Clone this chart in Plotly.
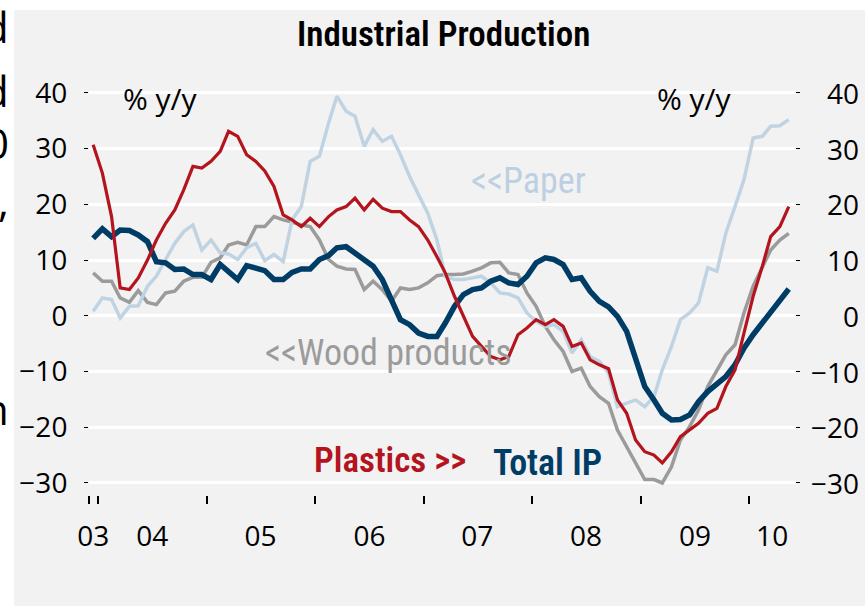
import pandas as pd
import plotly.graph_objects as go

# ---------------- data ----------------
months = pd.date_range("2003-12-01", periods=78, freq="MS") + pd.Timedelta(days=14)

plastics = [30.7, 25.6, 17.8, 5.0, 4.7, 6.8, 10.0, 13.6, 16.6, 19.0,
            22.6, 26.8, 26.5, 27.7, 29.5, 33.1, 32.2, 28.9, 27.7, 26.0,
            23.2, 18.1, 17.2, 16.0, 17.5, 16.0, 17.8, 19.0, 19.6, 21.1,
            19.0, 20.9, 19.3, 18.7, 18.7, 17.2, 16.0, 13.6, 10.6, 7.7,
            3.5, -0.1, -3.7, -5.5, -7.3, -7.9, -7.3, -3.4, -2.2, -0.7,
            -1.6, -0.7, -1.9, -5.5, -4.9, -7.9, -8.8, -9.5, -15.1, -17.5,
            -22.3, -24.4, -25.0, -26.4, -24.4, -21.7, -20.5, -19.3, -17.5, -16.6,
            -12.7, -9.7, -3.1, 3.5, 8.9, 14.2, 16.0, 19.6]

total_ip = [13.9, 15.6, 14.2, 15.4, 15.3, 14.5, 13.3, 9.7, 9.5, 8.3,
            8.4, 7.4, 7.4, 6.5, 9.2, 7.8, 6.5, 9.0, 8.6, 8.1,
            6.5, 6.5, 7.8, 8.4, 8.4, 10.1, 10.8, 12.2, 12.4, 11.3,
            10.1, 8.9, 6.5, 2.6, -0.7, -1.6, -3.1, -3.7, -3.7, -1.3,
            1.7, 3.8, 4.7, 5.0, 6.2, 6.8, 5.9, 5.6, 7.1, 9.5,
            10.4, 10.1, 9.2, 6.5, 6.8, 4.4, 2.6, 1.6, -0.1, -2.8,
            -7.9, -12.7, -15.1, -17.5, -18.7, -18.6, -17.8, -15.4, -13.6, -12.1,
            -10.9, -8.8, -5.8, -3.4, -1.3, 0.8, 2.9, 4.8]

paper = [0.8, 3.2, 2.9, -0.4, 1.7, 1.8, 5.3, 7.1, 10.1, 13.0,
         15.1, 16.3, 11.8, 13.6, 11.3, 11.1, 10.1, 12.2, 13.0, 9.9,
         11.0, 9.7, 17.2, 19.6, 27.7, 28.6, 34.6, 39.4, 36.7, 35.8,
         30.4, 33.4, 31.3, 32.2, 28.9, 25.0, 21.7, 18.4, 13.6, 7.1,
         6.5, 6.5, 6.8, 7.1, 5.9, 4.1, 3.9, 3.2, 0.5, -1.0,
         -1.9, -1.6, -2.8, -6.7, -4.3, -7.3, -8.2, -10.3, -16.3, -15.7,
         -15.1, -16.3, -14.5, -9.7, -5.5, -0.7, 0.5, 2.3, 8.6, 8.0,
         14.8, 19.6, 24.4, 31.9, 32.2, 34.0, 34.1, 35.2]

wood = [7.7, 6.2, 6.2, 3.2, 2.4, 4.5, 2.4, 2.0, 4.1, 4.4,
        6.2, 6.9, 6.9, 9.6, 10.4, 12.7, 13.2, 12.7, 16.0, 16.0,
        17.8, 17.2, 16.8, 16.3, 16.0, 13.6, 10.1, 8.9, 8.4, 8.3,
        4.7, 6.2, 4.7, 2.6, 5.0, 4.7, 5.0, 5.9, 7.2, 7.4,
        7.4, 7.5, 8.0, 8.6, 9.5, 9.6, 7.7, 7.4, 4.1, 1.7,
        -1.9, -4.3, -6.4, -10.0, -9.4, -12.7, -14.5, -15.7, -20.5, -23.5,
        -26.4, -29.4, -29.4, -30.0, -27.1, -22.3, -19.9, -16.9, -12.7, -9.7,
        -7.0, -5.2, 0.5, 5.3, 8.6, 11.8, 13.6, 14.8]

year_label_pos = ["2003-12-15", "2004-07-01", "2005-07-01", "2006-07-03",
                  "2007-07-01", "2008-07-01", "2009-07-03", "2010-03-20"]
year_labels = ["03", "04", "05", "06", "07", "08", "09", "10"]
year_ticks = ["2003-12-01", "2004-01-01", "2005-01-01", "2006-01-01", "2007-01-01",
              "2008-01-01", "2009-01-01", "2010-01-01"]
y_ticks = [-30, -20, -10, 0, 10, 20, 30, 40]

# ---------------- style ----------------
RED = "#b3141d"
NAVY = "#003d66"
LIGHT = "#c0d3e3"
GREY = "#9b9b9b"
BG = "#f2f2f2"
NARROW = ("Roboto Condensed, Noto Sans Condensed, Noto Sans ExtraCondensed, "
          "Liberation Sans Narrow, Arial Narrow, DejaVu Sans Condensed, Roboto, sans-serif")
SANS = "Open Sans, Noto Sans, DejaVu Sans, sans-serif"

FW, FH = 865, 606
# plot area in page pixels
L, R, T, B = 89, 795, 65, 495
W, H = R - L, B - T


def px(x):
    return (x - L) / W


def py(y):
    return (B - y) / H


fig = go.Figure()
fig.add_trace(go.Scatter(x=months, y=wood, mode="lines", name="Wood products",
                         line=dict(color=GREY, width=3.5)))
fig.add_trace(go.Scatter(x=months, y=paper, mode="lines", name="Paper",
                         line=dict(color=LIGHT, width=3.5)))
fig.add_trace(go.Scatter(x=months, y=plastics, mode="lines", name="Plastics",
                         line=dict(color=RED, width=3.2), yaxis="y2"))
fig.add_trace(go.Scatter(x=months, y=total_ip, mode="lines", name="Total IP",
                         line=dict(color=NAVY, width=5.5)))

yrange = [-32.16, 45]

fig.update_layout(
    width=FW, height=FH,
    margin=dict(l=L, r=FW - R, t=T, b=FH - B),
    paper_bgcolor=BG, plot_bgcolor=BG,
    showlegend=False,
    font=dict(family=SANS, size=28, color="black"),
    xaxis=dict(
        type="date",
        range=["2003-12-01", "2010-06-05"],
        tickmode="array", tickvals=year_label_pos, ticktext=year_labels,
        ticks="", showgrid=False, zeroline=False, showline=False,
        tickfont=dict(family=SANS, size=28, color="black"),
        ticklabelstandoff=22,
        minor=dict(tickmode="array", tickvals=year_ticks, ticks="outside",
                   ticklen=8, tickwidth=1.5, tickcolor="black", showgrid=False),
    ),
    yaxis=dict(
        range=yrange, tickmode="array", tickvals=y_ticks,
        showgrid=True, gridcolor="white", gridwidth=3, zeroline=False,
        ticks="outside", ticklen=4, tickwidth=1, tickcolor="black",
        tickfont=dict(family=SANS, size=28, color="black"),
        ticklabelstandoff=11, showline=False,
    ),
    yaxis2=dict(
        range=yrange, tickmode="array", tickvals=y_ticks, overlaying="y", side="right",
        showgrid=False, zeroline=False, ticks="outside", ticklen=4, tickwidth=1,
        tickcolor="black", showticklabels=False, showline=False,
    ),
)

# white strips around the grey panel
fig.add_shape(type="rect", xref="paper", yref="paper", layer="below",
              x0=px(0), x1=px(FW), y0=py(10), y1=py(0),
              fillcolor="white", line=dict(width=0))
fig.add_shape(type="rect", xref="paper", yref="paper", layer="below",
              x0=px(0), x1=px(14), y0=py(FH), y1=py(0),
              fillcolor="white", line=dict(width=0))

ann = []
# right-axis labels, right aligned
for v in y_ticks:
    txt = ("\u2212" + str(abs(v))) if v < 0 else str(v)
    ann.append(dict(x=px(861), y=v, xref="paper", yref="y", text=txt, showarrow=False,
                    xanchor="right", yanchor="middle",
                    font=dict(family=SANS, size=28, color="black")))

labels = [
    dict(x=px(443), y=py(34), text="Industrial Production",
         font=dict(family=NARROW, size=35, color="black", weight=600)),
    dict(x=px(160), y=py(98), text="% y/y", font=dict(family=SANS, size=30, color="black")),
    dict(x=px(694), y=py(98), text="% y/y", font=dict(family=SANS, size=30, color="black")),
    dict(x=px(528), y=py(181), text="<<Paper", font=dict(family=NARROW, size=36, color="#bcd0e2")),
    dict(x=px(388), y=py(353), text="<<Wood products", font=dict(family=NARROW, size=36, color=GREY)),
    dict(x=px(390), y=py(460), text="Plastics >>", font=dict(family=NARROW, size=35, color=RED, weight=600)),
    dict(x=px(547), y=py(463), text="Total IP", font=dict(family=NARROW, size=36, color=NAVY, weight=600)),
]
for a in labels:
    a.update(xref="paper", yref="paper", showarrow=False, xanchor="center", yanchor="middle")
ann += labels

# clipped fragments of neighbouring text at the far left edge
for t_, yc in [("d", 26), ("d", 90), ("0", 142), (",", 200), ("n", 408)]:
    ann.append(dict(x=px(11), y=py(yc), xref="paper", yref="paper", text=t_,
                    showarrow=False, xanchor="right", yanchor="middle",
                    font=dict(family=SANS, size=42, color="black")))

fig.update_layout(annotations=ann)

# place the figure flush with the page corner, no mode bar
fig.write_html("out.html", config={"displayModeBar": False},
               post_script="document.body.style.margin='0';")
